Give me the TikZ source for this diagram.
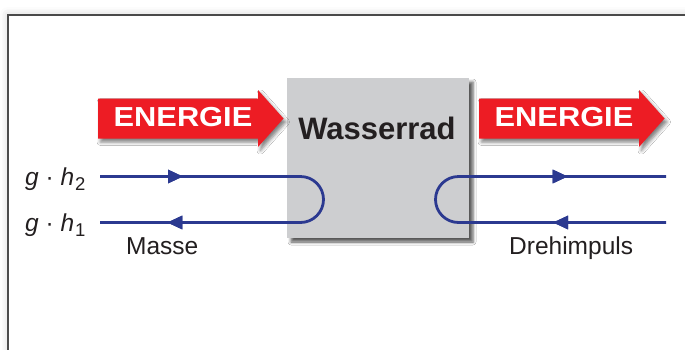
\documentclass[tikz,border=0pt]{standalone}
\usepackage{fontspec}
\setmainfont{Liberation Sans}
\newfontfamily\arrowfont[FakeStretch=1.12]{Liberation Sans Bold}
\usetikzlibrary{arrows.meta,shadows.blur,decorations.markings}

\definecolor{energyred}{HTML}{ED1C24}
\definecolor{wheelgray}{HTML}{CDCED0}
\definecolor{flowblue}{HTML}{2B3990}
\definecolor{framegray}{HTML}{4A4A4A}
\definecolor{inkblack}{HTML}{231F20}

\newcommand\lowsub[1]{\kern1pt\raisebox{-5pt}{\fontsize{18.5}{19}\selectfont #1}}

\tikzset{
  energy/.style={fill=energyred,
    blur shadow={shadow xshift=2.5pt,shadow yshift=-3.5pt,shadow blur radius=3.5pt,shadow opacity=50}},
  energytext/.style={text=white,font=\arrowfont\fontsize{27.5}{29}\selectfont,anchor=base,inner sep=0pt},
  flow/.style={draw=flowblue,line width=2.8pt},
  flowtips/.style={postaction={decorate},decoration={markings,
    mark=at position #1 with {\arrow{Triangle[length=15pt,width=13pt]}}}},
  flowlabel/.style={text=inkblack,font=\fontsize{24.5}{26}\selectfont,anchor=base west,inner sep=0pt}
}

\begin{document}
\begin{tikzpicture}[x=1pt,y=-1pt]
  \useasboundingbox (0,0) rectangle (685,349);
  \clip (0,0) rectangle (685,349);

  % outer frame
  \draw[framegray,line width=2pt,fill=white,
    blur shadow={shadow xshift=0pt,shadow yshift=0pt,shadow blur radius=8pt,shadow opacity=20}]
    (8,15) rectangle (720,390);

  % the water wheel
  \node[fill=wheelgray,minimum width=182pt,minimum height=160pt,inner sep=0pt,
    blur shadow={shadow xshift=4pt,shadow yshift=-4pt,shadow blur radius=3pt,shadow opacity=65}]
    (rad) at (378,158) {};
  \node[text=inkblack,font=\bfseries\fontsize{31}{33}\selectfont,anchor=base,inner sep=0pt]
    (radtext) at (377,139) {Wasserrad};

  % energy in and out
  \foreach \dx/\nm in {0/energyin,381/energyout}{
    \fill[energy,xshift=\dx pt] (98,98.5) -- (258,98.5) -- (258,90) -- (283.5,118.5)
      -- (258,147) -- (258,138.5) -- (98,138.5) -- cycle;
    \node[energytext] (\nm) at (183+\dx,126.5) {ENERGIE};
  }

  % mass flow on the left
  \coordinate (mh2) at (100,176.5);
  \coordinate (mh1) at (100,222.5);
  \coordinate (mturn) at (300.5,176.5);
  \draw[flow,flowtips=83pt,flowtips=406pt]
    (mh2) -- (mturn) arc(-90:90:23) -- (mh1);

  % angular momentum on the right
  \coordinate (dout) at (666,176.5);
  \coordinate (din) at (666,222.5);
  \coordinate (dturn) at (458.5,222.5);
  \draw[flow,flowtips=113pt,flowtips=389pt]
    (din) -- (dturn) arc(90:270:23) -- (dout);

  % labels
  \node[flowlabel] (gh2) at (25,185) {\textit{g} · \textit{h}\lowsub{2}};
  \node[flowlabel] (gh1) at (25,231.5) {\textit{g} · \textit{h}\lowsub{1}};
  \node[flowlabel] (masse) at (126,254) {Masse};
  \node[flowlabel] (drehimpuls) at (509,254) {Drehimpuls};
\end{tikzpicture}
\end{document}
